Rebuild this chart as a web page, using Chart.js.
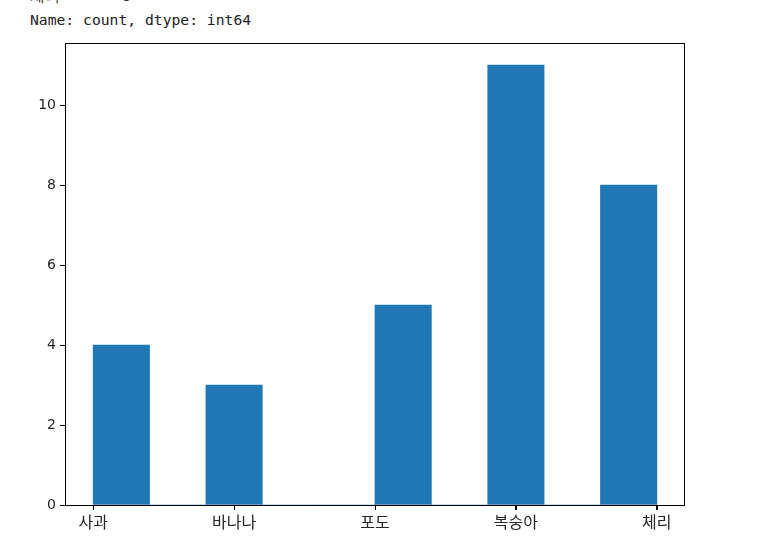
<!DOCTYPE html>
<html>
<head>
<meta charset="utf-8">
<script src="https://cdn.jsdelivr.net/npm/chart.js@4"></script>
<style>
    body { margin: 0; background: #fff; overflow: hidden; }
    #wrap { position: relative; width: 784px; height: 554px; }
    #chart { position: absolute; left: 0; top: 0; }
    .out { position: absolute; left: 30px; font-family: 'DejaVu Sans Mono', monospace; font-size: 14.7px; color: #222; white-space: pre; }
</style>
</head>
<body>
<div id="wrap">
    <div class="out" style="top:-13px;">체리       8</div>
    <div class="out" style="top:11px;">Name: count, dtype: int64</div>
    <canvas id="chart" width="784" height="554"></canvas>
</div>
<script>
// categories are coded 0..4 on the x axis (like matplotlib does for strings)
const categories = ['사과', '바나나', '포도', '복숭아', '체리'];
// hist(bins=10) over 0..4 -> counts per bin
const binCounts = [4, 0, 3, 0, 0, 5, 0, 11, 0, 8];
const binCount = 10;
const yTicks = [0, 2, 4, 6, 8, 10];

const binWidth = (categories.length - 1) / binCount;
const histData = binCounts.map((c, i) => ({ x: i * binWidth + binWidth / 2, y: c }));
const maxCount = Math.max(...binCounts);

const textColor = '#262626';

// axes box + bottom tick marks
const framePlugin = {
    id: 'frame',
    afterDraw(chart) {
        const a = chart.chartArea;
        const ctx = chart.ctx;
        const xs = chart.scales.x;
        ctx.save();
        ctx.strokeStyle = '#000';
        ctx.lineWidth = 1;
        ctx.strokeRect(a.left + 0.5, a.top + 0.5, a.right - a.left - 1, a.bottom - a.top);
        ctx.beginPath();
        xs.ticks.forEach(t => {
            const px = Math.round(xs.getPixelForValue(t.value)) + 0.5;
            ctx.moveTo(px, a.bottom);
            ctx.lineTo(px, a.bottom + 5);
        });
        ctx.stroke();
        ctx.restore();
    }
};

new Chart(document.getElementById('chart').getContext('2d'), {
    type: 'bar',
    data: {
        datasets: [{
            data: histData,
            backgroundColor: '#1f77b4',
            borderWidth: 0,
            barPercentage: 1,
            categoryPercentage: 1
        }]
    },
    options: {
        responsive: false,
        animation: false,
        layout: { padding: { left: 0, top: 43, right: 99, bottom: 0 } },
        plugins: { legend: { display: false }, tooltip: { enabled: false } },
        scales: {
            x: {
                type: 'linear',
                min: -0.05 * (categories.length - 1),
                max: (categories.length - 1) * 1.05,
                offset: false,
                afterBuildTicks: s => { s.ticks = categories.map((_, i) => ({ value: i })); },
                afterFit: s => { s.height = 49; },
                grid: { display: true, offset: false, drawOnChartArea: false, color: '#000', tickLength: 5 },
                border: { display: false },
                ticks: {
                    color: textColor,
                    font: { family: "'Noto Sans CJK KR', 'DejaVu Sans'", size: 16 },
                    padding: 2,
                    maxRotation: 0,
                    autoSkip: false,
                    callback: v => categories[v]
                }
            },
            y: {
                min: 0,
                max: maxCount * 1.05,
                afterBuildTicks: s => { s.ticks = yTicks.map(v => ({ value: v })); },
                afterFit: s => { s.width = 65; },
                grid: { display: true, drawOnChartArea: false, color: '#000', tickLength: 5 },
                border: { display: false },
                ticks: {
                    color: textColor,
                    font: { family: "'DejaVu Sans'", size: 14 },
                    padding: 4
                }
            }
        }
    },
    plugins: [framePlugin]
});
</script>
</body>
</html>
